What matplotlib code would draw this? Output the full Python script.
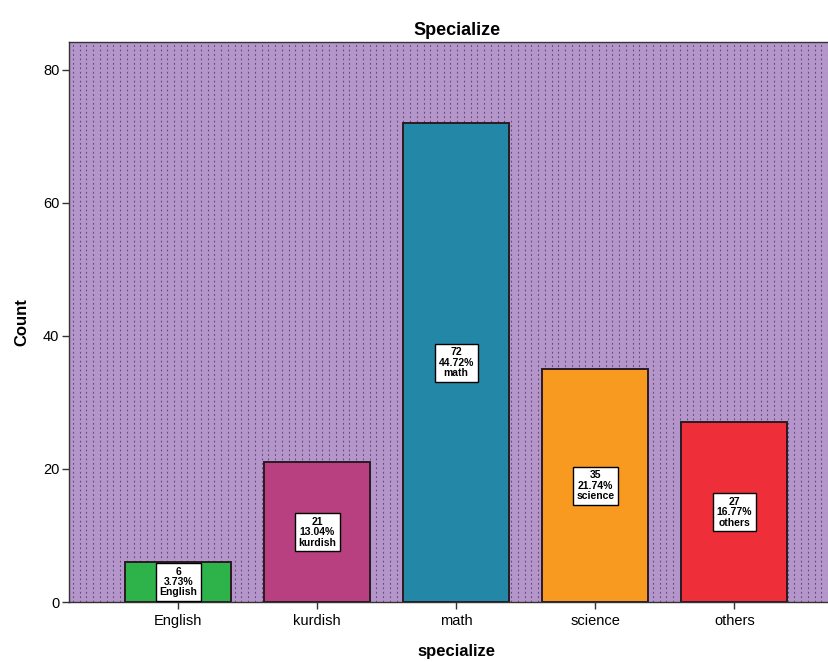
import matplotlib.pyplot as plt
import numpy as np

plt.rcParams['font.family'] = ['Liberation Sans', 'DejaVu Sans']

categories = ['English', 'kurdish', 'math', 'science', 'others']
counts = [6, 21, 72, 35, 27]
percents = ['3.73%', '13.04%', '44.72%', '21.74%', '16.77%']
bar_colors = ['#2eb34b', '#b83f80', '#2388a8', '#f79a1f', '#ee2f3a']

fig = plt.figure(figsize=(8.29, 6.62), dpi=100)
ax = fig.add_axes([0.0832, 0.0906, 0.935, 0.846])
ax.set_facecolor('#b596ca')

# dotted vertical texture on the plot background
xs = np.arange(0.005, 1.0, 0.0087)
ax.vlines(xs, 0, 1, transform=ax.transAxes, colors='#4a3060',
          linestyles=(0, (1.6, 2.4)), linewidth=0.8, alpha=0.75, zorder=0)

x = np.arange(len(categories))
bars = ax.bar(x, counts, width=0.76, color=bar_colors, edgecolor='#2a1a22',
              linewidth=1.4, zorder=2)

for xi, c, p, name in zip(x, counts, percents, categories):
    ax.text(xi, c / 2, f'{c}\n{p}\n{name}', ha='center', va='center',
            fontsize=7.5, fontweight='bold', linespacing=1.05, zorder=3,
            bbox=dict(boxstyle='square,pad=0.35', facecolor='white',
                      edgecolor='black', linewidth=1.0))

ax.set_xlim(-0.785, 4.79)
ax.set_ylim(0, 84.2)
ax.set_yticks([0, 20, 40, 60, 80])
ax.set_xticks(x)
ax.set_xticklabels(categories)
ax.tick_params(axis='both', labelsize=10.5, length=5, width=1.0, color='#333333')
ax.tick_params(axis='y', pad=2)

for side in ['left', 'bottom', 'top']:
    ax.spines[side].set_color('#333333')
    ax.spines[side].set_linewidth(1.0)
ax.spines['right'].set_visible(False)

ax.set_xlabel('specialize', fontsize=12, fontweight='bold', labelpad=12)
ax.set_ylabel('Count', fontsize=12, fontweight='bold', labelpad=10)
ax.set_title('Specialize', fontsize=13, fontweight='bold', pad=5)

fig.savefig('out.png', dpi=100)
